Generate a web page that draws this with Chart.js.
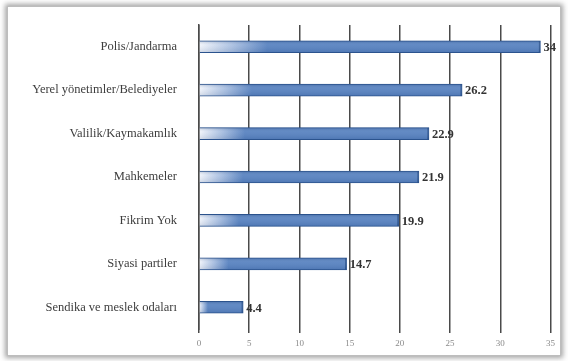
<!DOCTYPE html>
<html>
<head>
<meta charset="utf-8">
<script src="https://cdn.jsdelivr.net/npm/chart.js@4/dist/chart.umd.min.js"></script>
<style>
  html, body { margin: 0; padding: 0; background: #fff; }
  body { width: 568px; height: 361px; position: relative; overflow: hidden; }
  .frame {
    position: absolute; left: 7px; top: 6px; width: 552px; height: 348px;
    background: #fff; border: 1px solid #bdbdbd;
    box-shadow: 0 0 5px 2px rgba(90, 90, 90, 0.55);
  }
  canvas { display: block; }
</style>
</head>
<body>
<div class="frame"><canvas id="myChart" width="552" height="348"></canvas></div>
<script>
const labels = [
  'Polis/Jandarma',
  'Yerel yönetimler/Belediyeler',
  'Valilik/Kaymakamlık',
  'Mahkemeler',
  'Fikrim Yok',
  'Siyasi partiler',
  'Sendika ve meslek odaları',
];

const values = [34, 26.2, 22.9, 21.9, 19.9, 14.7, 4.4];

const xTicks = [0, 5, 10, 15, 20, 25, 30, 35];

// each bar fades in from near-white over the first part of its length
function barFill(context) {
  const chart = context.chart;
  const area = chart.chartArea;
  const x = chart.scales.x;
  if (!area || !x || context.parsed === undefined) return '#5580bf';
  const start = x.getPixelForValue(0);
  const end = x.getPixelForValue(context.parsed.x);
  const len = Math.max(end - start, 1);
  const g = chart.ctx.createLinearGradient(start, 0, start + len * 0.2, 0);
  g.addColorStop(0, '#f2f5fb');
  g.addColorStop(0.5, '#a6bde0');
  g.addColorStop(1, '#5580bf');
  return g;
}

// slight darker top edge on each bar
const barShade = {
  id: 'barShade',
  afterDatasetsDraw(chart) {
    const ctx = chart.ctx;
    const meta = chart.getDatasetMeta(0);
    ctx.save();
    meta.data.forEach((bar) => {
      const top = bar.y - bar.height / 2;
      const g = ctx.createLinearGradient(0, top, 0, top + bar.height);
      g.addColorStop(0, 'rgba(30,60,110,0.25)');
      g.addColorStop(0.35, 'rgba(255,255,255,0.08)');
      g.addColorStop(1, 'rgba(30,60,110,0.15)');
      ctx.fillStyle = g;
      ctx.fillRect(bar.base, top, bar.x - bar.base, bar.height);
    });
    ctx.restore();
  }
};

// value written just past the end of each bar
const valueLabels = {
  id: 'valueLabels',
  afterDatasetsDraw(chart) {
    const ctx = chart.ctx;
    const meta = chart.getDatasetMeta(0);
    ctx.save();
    ctx.font = 'bold 12.5px "Liberation Serif", "DejaVu Serif", serif';
    ctx.fillStyle = '#333';
    ctx.textBaseline = 'middle';
    ctx.textAlign = 'left';
    meta.data.forEach((bar, i) => {
      ctx.fillText(String(values[i]), bar.x + 3, bar.y + 1);
    });
    ctx.restore();
  }
};

const data = {
  labels: labels,
  datasets: [
    {
      data: values,
      backgroundColor: barFill,
      borderColor: '#2c5591',
      borderWidth: { top: 1, bottom: 1, right: 2, left: 0 },
      borderSkipped: 'left',
      barThickness: 12,
    }
  ]
};

const config = {
  type: 'bar',
  data: data,
  plugins: [barShade, valueLabels],
  options: {
    indexAxis: 'y',
    responsive: false,
    animation: false,
    layout: { padding: { top: 18, right: 8, left: 0, bottom: 0 } },
    plugins: {
      legend: { display: false },
      tooltip: { enabled: false },
    },
    scales: {
      x: {
        min: 0,
        max: 35,
        afterBuildTicks: (scale) => { scale.ticks = xTicks.map(v => ({ value: v })); },
        border: { display: false },
        grid: { color: '#4a4a4a', lineWidth: 1.5, tickLength: 4, tickColor: '#4a4a4a' },
        ticks: {
          color: '#8a8a8a',
          padding: 5,
          font: { family: '"Liberation Serif", serif', size: 9 },
        },
        afterFit: (scale) => { scale.height = 26; },
      },
      y: {
        border: { display: true, color: '#4a4a4a', width: 1.5 },
        grid: { display: false },
        ticks: {
          color: '#3d3d3d',
          padding: 14,
          font: { family: '"Liberation Serif", "DejaVu Serif", serif', size: 12.5 },
        },
        afterFit: (scale) => {
          scale.width = 191;
          scale.paddingTop = 0;
          scale.paddingBottom = 0;
        },
      }
    }
  }
};

const myChart = new Chart(document.getElementById('myChart'), config);
</script>
</body>
</html>
